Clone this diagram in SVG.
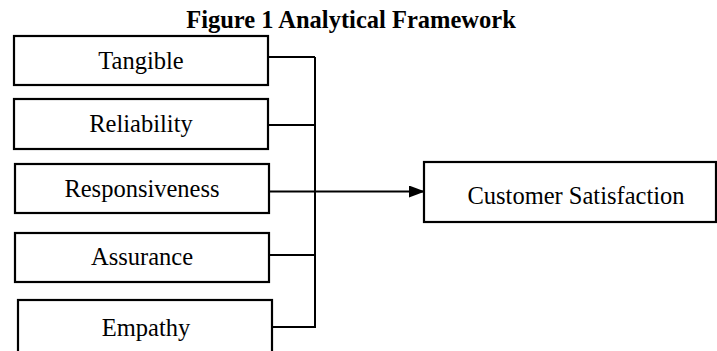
<svg xmlns="http://www.w3.org/2000/svg" width="717" height="351" viewBox="0 0 717 351">
<style>
.box{fill:#fff;stroke:#000;stroke-width:2.2}
.lbl{font-family:"Liberation Serif","Times New Roman",serif;font-size:24.5px;fill:#000;text-anchor:middle}
.title{font-family:"Liberation Serif","Times New Roman",serif;font-size:24.5px;font-weight:bold;fill:#000;text-anchor:middle}
.conn{fill:none;stroke:#000;stroke-width:2}
</style>
<defs>
<marker id="arr" markerWidth="16" markerHeight="12" refX="15" refY="6" orient="auto" markerUnits="userSpaceOnUse">
<path d="M0,0 L16,6 L0,12 Z" fill="#000"/>
</marker>
</defs>
<rect width="717" height="351" fill="#fff"/>
<text class="title" x="351" y="28">Figure 1 Analytical Framework</text>
<g id="tangible"><rect class="box" x="14" y="36" width="254" height="49"/><text class="lbl" x="141" y="69">Tangible</text></g>
<g id="reliability"><rect class="box" x="14" y="99" width="254" height="50"/><text class="lbl" x="141" y="132">Reliability</text></g>
<g id="responsiveness"><rect class="box" x="15" y="164" width="254" height="49"/><text class="lbl" x="142" y="197">Responsiveness</text></g>
<g id="assurance"><rect class="box" x="15" y="233" width="254" height="49"/><text class="lbl" x="142" y="265">Assurance</text></g>
<g id="empathy"><rect class="box" x="18" y="300" width="254" height="60"/><text class="lbl" x="146" y="336">Empathy</text></g>
<g id="customer-satisfaction"><rect class="box" x="424" y="162" width="292" height="60"/><text class="lbl" x="576" y="204">Customer Satisfaction</text></g>
<g id="connectors">
<path class="conn" d="M268,57 H315 M268,125 H315 M272,327 H315 M269,255 H315 M315,57 V328"/>
<path class="conn" d="M269,191.5 H424" marker-end="url(#arr)"/>
</g>
</svg>
